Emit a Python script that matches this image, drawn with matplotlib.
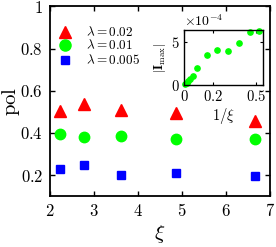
import numpy as np
import matplotlib
matplotlib.use("Agg")
import matplotlib.pyplot as plt
from matplotlib.ticker import FuncFormatter

plt.rcParams['mathtext.fontset'] = 'cm'
plt.rcParams['font.family'] = 'serif'
plt.rcParams['font.serif'] = ['DejaVu Serif']

# main panel data
xi = [2.22, 2.77, 3.62, 4.86, 6.67]
pol_002 = [0.503, 0.538, 0.510, 0.495, 0.455]
pol_001 = [0.395, 0.379, 0.384, 0.370, 0.370]
pol_0005 = [0.228, 0.247, 0.200, 0.211, 0.195]
labels = [r'$\lambda = 0.02$', r'$\lambda = 0.01$', r'$\lambda = 0.005$']

# inset data
inv_xi = [0.007, 0.019, 0.030, 0.042, 0.060, 0.088, 0.157, 0.227, 0.308, 0.384, 0.458, 0.523]
imax = [0.12, 0.27, 0.47, 0.67, 1.1, 2.0, 3.55, 4.05, 3.94, 4.92, 6.25, 6.3]

fig = plt.figure(figsize=(2.76, 2.47), dpi=100)
ax = fig.add_axes([0.181, 0.206, 0.797, 0.768])

ax.plot(xi, pol_002, '^', color=(1, 0, 0), ms=8.5, ls='none')
ax.plot(xi, pol_001, 'o', color=(0, 1, 0), ms=7.5, ls='none')
ax.plot(xi, pol_0005, 's', color=(0, 0, 1), ms=6, ls='none')

ax.set_xlim(2, 7)
ax.set_ylim(0.1, 1)
ax.set_xticks([2, 3, 4, 5, 6, 7])
ax.set_yticks([0.2, 0.4, 0.6, 0.8, 1])
tickfmt = FuncFormatter(lambda v, p: r'$%g$' % v)
ax.xaxis.set_major_formatter(tickfmt)
ax.yaxis.set_major_formatter(tickfmt)
ax.tick_params(direction='in', top=True, right=True, length=3.5, width=1, labelsize=12, pad=5)
for s in ax.spines.values():
    s.set_linewidth(1.3)
ax.set_xlabel(r'$\xi$', fontsize=15, labelpad=2)
ax.set_ylabel(r'$\mathrm{pol}$', fontsize=15)
ax.yaxis.label.set_va('center')
ax.yaxis.set_label_coords(-0.178, 0.5)

# legend, drawn by hand in axes coords
leg_y = [0.865, 0.795, 0.715]
leg_m = [('^', (1, 0, 0), 9), ('o', (0, 1, 0), 8), ('s', (0, 0, 1), 6)]
for yy, (m, c, sz), lab in zip(leg_y, leg_m, labels):
    ax.plot([0.07], [yy], m, color=c, ms=sz, transform=ax.transAxes, clip_on=False)
    ax.text(0.165, yy, lab, fontsize=9.5, va='center', ha='left', transform=ax.transAxes)

# inset
ins = fig.add_axes([0.667, 0.656, 0.287, 0.221])
ins.plot(inv_xi, imax, 'o', color=(0, 1, 0), ms=3.8, ls='none', clip_on=False)
ins.set_xlim(0, 0.55)
ins.set_ylim(0, 6.4)
ins.set_xticks([0, 0.2, 0.5])
ins.set_yticks([0, 5])
ins.xaxis.set_major_formatter(tickfmt)
ins.yaxis.set_major_formatter(tickfmt)
ins.tick_params(direction='in', top=True, right=True, length=2.5, width=0.8, labelsize=10.5, pad=3)
for s in ins.spines.values():
    s.set_linewidth(1.0)
ins.set_xlabel(r'$1/\xi$', fontsize=10.5, labelpad=1)
ins.set_ylabel(r'$|\mathbf{I}_{\max}|$', fontsize=9, labelpad=2)
ins.text(0.0, 1.03, r'$\times10^{-4}$', fontsize=10, transform=ins.transAxes, ha='left', va='bottom')

fig.savefig('out.png', dpi=100)
